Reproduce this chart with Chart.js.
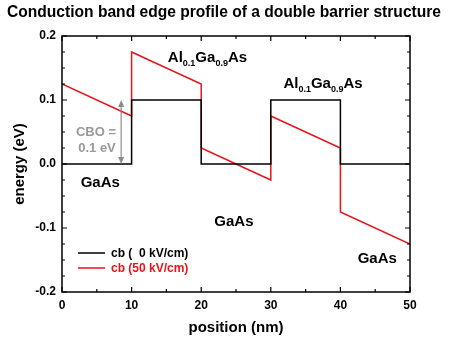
<!DOCTYPE html>
<html>
<head>
<meta charset="utf-8">
<script src="https://cdn.jsdelivr.net/npm/chart.js@4/dist/chart.umd.min.js"></script>
<style>
  html, body { margin: 0; padding: 0; background: #fff; }
  #wrap { width: 450px; height: 341px; position: relative; }
</style>
</head>
<body>
<div id="wrap"><canvas id="c" width="450" height="341"></canvas></div>
<script>
// Conduction band profile (eV) along the growth direction (nm)
const positions = [0, 10, 10, 20, 20, 30, 30, 40, 40, 50];
const cbZeroField = [0, 0, 0.1, 0.1, 0, 0, 0.1, 0.1, 0, 0];
const cbFiftyField = [0.125, 0.075, 0.175, 0.125, 0.025, -0.025, 0.075, 0.025, -0.075, -0.125];
const seriesLabels = ['cb (  0 kV/cm)', 'cb (50 kV/cm)'];
const seriesColors = ['#000000', '#e8141b'];
const xTicks = [0, 10, 20, 30, 40, 50];
const yTicks = [-0.2, -0.1, 0.0, 0.1, 0.2];

const chartTitle = 'Conduction band edge profile of a double barrier structure';
const FONT = '"Liberation Sans", Arial, sans-serif';

function toPoints(xs, ys) { return xs.map((x, i) => ({ x: x, y: ys[i] })); }

// Title, frame, inward tick marks, legend and region labels
const decorations = {
  id: 'decorations',
  afterDraw(chart) {
    const ctx = chart.ctx;
    const a = chart.chartArea;
    const xs = chart.scales.x, ys = chart.scales.y;
    ctx.save();

    // title
    ctx.fillStyle = '#000';
    ctx.font = 'bold 15.6px ' + FONT;
    ctx.textAlign = 'center';
    ctx.textBaseline = 'middle';
    ctx.fillText(chartTitle, 224, 13);

    // frame
    ctx.strokeStyle = '#000';
    ctx.lineWidth = 1.5;
    ctx.strokeRect(a.left, a.top, a.right - a.left, a.bottom - a.top);

    // tick marks pointing into the plot on all four sides
    ctx.lineWidth = 1.2;
    ctx.beginPath();
    for (let v = xs.min; v <= xs.max + 1e-9; v += 5) {
      const px = xs.getPixelForValue(v);
      const len = Math.abs(v % 10) < 1e-9 ? 5 : 3;
      ctx.moveTo(px, a.bottom); ctx.lineTo(px, a.bottom - len);
      ctx.moveTo(px, a.top); ctx.lineTo(px, a.top + len);
    }
    for (let k = 0; k <= 16; k++) {
      const v = ys.min + k * 0.025;
      const py = ys.getPixelForValue(v);
      const len = k % 4 === 0 ? 5 : 3;
      ctx.moveTo(a.left, py); ctx.lineTo(a.left + len, py);
      ctx.moveTo(a.right, py); ctx.lineTo(a.right - len, py);
    }
    ctx.stroke();

    // legend inside the plot
    ctx.font = 'bold 12px ' + FONT;
    ctx.textAlign = 'left';
    ctx.textBaseline = 'middle';
    chart.data.datasets.forEach((ds, i) => {
      const y = 253 + i * 15;
      ctx.strokeStyle = ds.borderColor;
      ctx.lineWidth = 1.5;
      ctx.beginPath(); ctx.moveTo(78, y); ctx.lineTo(105, y); ctx.stroke();
      ctx.fillStyle = ds.borderColor;
      ctx.fillText(ds.label, 111, y + 0.5);
    });

    // GaAs region labels
    ctx.fillStyle = '#000';
    ctx.font = 'bold 15px ' + FONT;
    ctx.textAlign = 'center';
    [[5.5, -0.03], [24.7, -0.09], [45.3, -0.148]].forEach(p => {
      ctx.fillText('GaAs', xs.getPixelForValue(p[0]), ys.getPixelForValue(p[1]));
    });

    // barrier labels with subscripts
    function alloy(cx, cy) {
      const parts = [['Al', false], ['0.1', true], ['Ga', false], ['0.9', true], ['As', false]];
      const big = 'bold 15px ' + FONT, small = 'bold 9px ' + FONT;
      let w = 0;
      parts.forEach(p => { ctx.font = p[1] ? small : big; w += ctx.measureText(p[0]).width; });
      let x = cx - w / 2;
      ctx.textAlign = 'left';
      ctx.textBaseline = 'middle';
      parts.forEach(p => {
        ctx.font = p[1] ? small : big;
        ctx.fillText(p[0], x, p[1] ? cy + 6 : cy);
        x += ctx.measureText(p[0]).width;
      });
    }
    alloy(xs.getPixelForValue(20.9), ys.getPixelForValue(0.166));
    alloy(xs.getPixelForValue(37.5), ys.getPixelForValue(0.125));

    // conduction band offset marker
    const ax = xs.getPixelForValue(8.5);
    const y1 = ys.getPixelForValue(0.1), y0 = ys.getPixelForValue(0);
    ctx.strokeStyle = '#8c8c8c';
    ctx.fillStyle = '#8c8c8c';
    ctx.lineWidth = 1.2;
    ctx.beginPath(); ctx.moveTo(ax, y1 + 2); ctx.lineTo(ax, y0 - 2); ctx.stroke();
    ctx.beginPath(); ctx.moveTo(ax, y1); ctx.lineTo(ax - 3, y1 + 7); ctx.lineTo(ax + 3, y1 + 7); ctx.closePath(); ctx.fill();
    ctx.beginPath(); ctx.moveTo(ax, y0); ctx.lineTo(ax - 3, y0 - 7); ctx.lineTo(ax + 3, y0 - 7); ctx.closePath(); ctx.fill();
    ctx.fillStyle = '#999999';
    ctx.font = 'bold 13px ' + FONT;
    ctx.textAlign = 'center';
    ctx.textBaseline = 'middle';
    ctx.fillText('CBO =', 96, 132);
    ctx.fillText('0.1 eV', 97, 148);

    ctx.restore();
  }
};

new Chart(document.getElementById('c'), {
  type: 'line',
  data: {
    datasets: [
      { label: seriesLabels[0], data: toPoints(positions, cbZeroField), borderColor: seriesColors[0], borderWidth: 1.5, pointRadius: 0, tension: 0, fill: false },
      { label: seriesLabels[1], data: toPoints(positions, cbFiftyField), borderColor: seriesColors[1], borderWidth: 1.5, pointRadius: 0, tension: 0, fill: false }
    ]
  },
  options: {
    responsive: false,
    animation: false,
    devicePixelRatio: 1,
    layout: { padding: { left: 0, right: 40, top: 36, bottom: 0 } },
    plugins: { legend: { display: false }, title: { display: false }, tooltip: { enabled: false } },
    scales: {
      x: {
        type: 'linear', min: 0, max: 50,
        afterBuildTicks: s => { s.ticks = xTicks.map(v => ({ value: v })); },
        afterFit: s => { s.height = 49; },
        grid: { display: false, drawTicks: false },
        border: { display: false },
        ticks: { color: '#000', font: { family: FONT, size: 12, weight: 'bold' }, padding: 6, maxRotation: 0 },
        title: { display: true, text: 'position (nm)', color: '#000', font: { family: FONT, size: 15, weight: 'bold' }, padding: { top: 8 } }
      },
      y: {
        type: 'linear', min: -0.2, max: 0.2,
        afterBuildTicks: s => { s.ticks = yTicks.map(v => ({ value: v })); },
        afterFit: s => { s.width = 62; },
        grid: { display: false, drawTicks: false },
        border: { display: false },
        ticks: { color: '#000', font: { family: FONT, size: 12, weight: 'bold' }, padding: 6, callback: v => v.toFixed(1) },
        title: { display: true, text: 'energy (eV)', color: '#000', font: { family: FONT, size: 15, weight: 'bold' }, padding: { top: 11, bottom: 0 } }
      }
    }
  },
  plugins: [decorations]
});
</script>
</body>
</html>
